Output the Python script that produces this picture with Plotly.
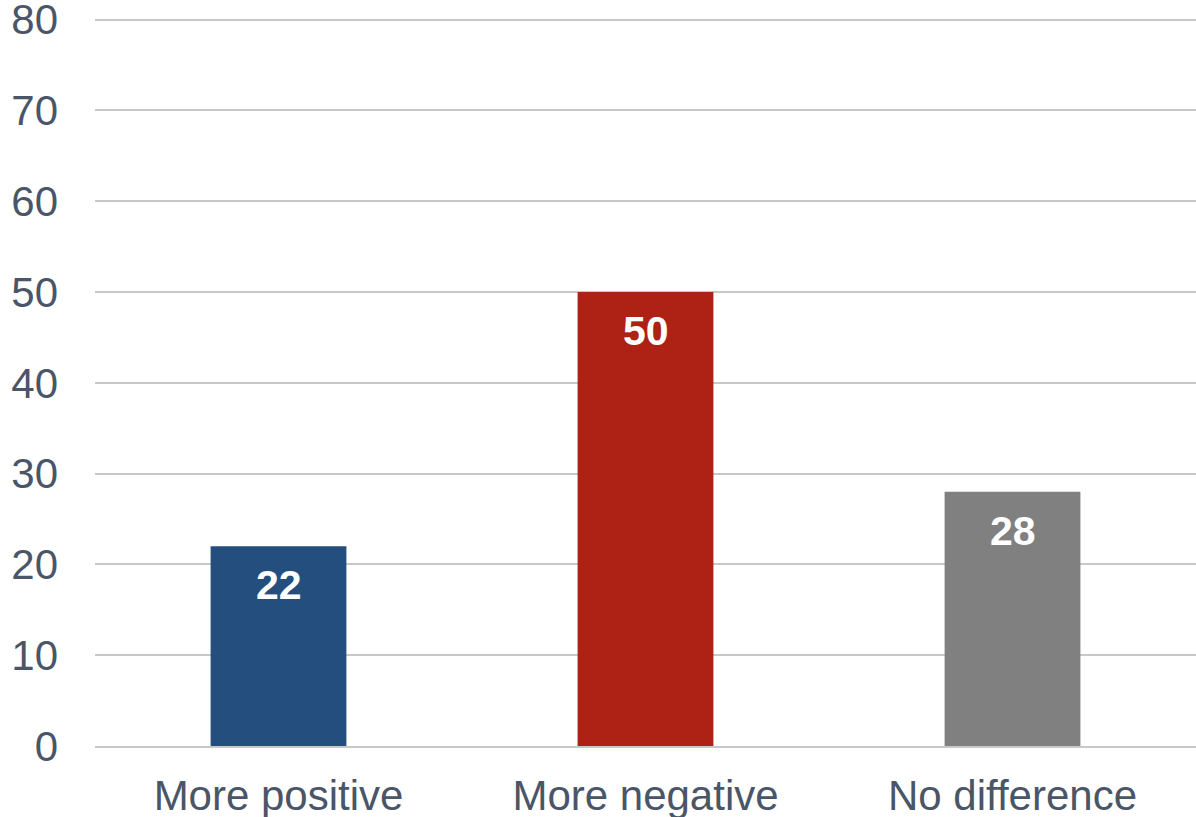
import plotly.graph_objects as go

categories = ["More positive", "More negative", "No difference"]
values = [22, 50, 28]
colors = ["#234E7E", "#AE2115", "#808080"]
tick_vals = [0, 10, 20, 30, 40, 50, 60, 70, 80]

FONT = "Liberation Sans, Arial, sans-serif"
TXT = "#4A5568"

fig = go.Figure()
fig.add_trace(go.Bar(
    x=categories, y=values, marker_color=colors, marker_line_width=0,
    hoverinfo="skip",
))

for c, v in zip(categories, values):
    fig.add_annotation(
        x=c, y=v, text=f"<b>{v}</b>", showarrow=False, yanchor="top",
        yshift=-14, font=dict(family=FONT, size=41, color="white"),
    )

fig.update_layout(
    width=1196, height=817,
    margin=dict(l=95, r=0, t=16, b=71),
    plot_bgcolor="white", paper_bgcolor="white",
    bargap=0.63, showlegend=False,
    font=dict(family=FONT, size=42, color=TXT),
)
fig.update_yaxes(
    range=[0, 80.4], tickvals=tick_vals, showgrid=True, gridcolor="#C8C8C8",
    gridwidth=2, zeroline=False, showline=False, ticks="", automargin=False,
    ticklabeloverflow="allow",
    ticklabelstandoff=36, tickfont=dict(family=FONT, size=42, color=TXT),
)
fig.update_xaxes(
    showline=True, linecolor="#C8C8C8", linewidth=2, ticks="", automargin=False,
    ticklabeloverflow="allow",
    ticklabelstandoff=12, tickfont=dict(family=FONT, size=42, color=TXT),
)

fig.write_html(
    "out.html",
    config={"displayModeBar": False},
    post_script="document.body.style.margin='0';document.body.style.overflow='hidden';",
)
